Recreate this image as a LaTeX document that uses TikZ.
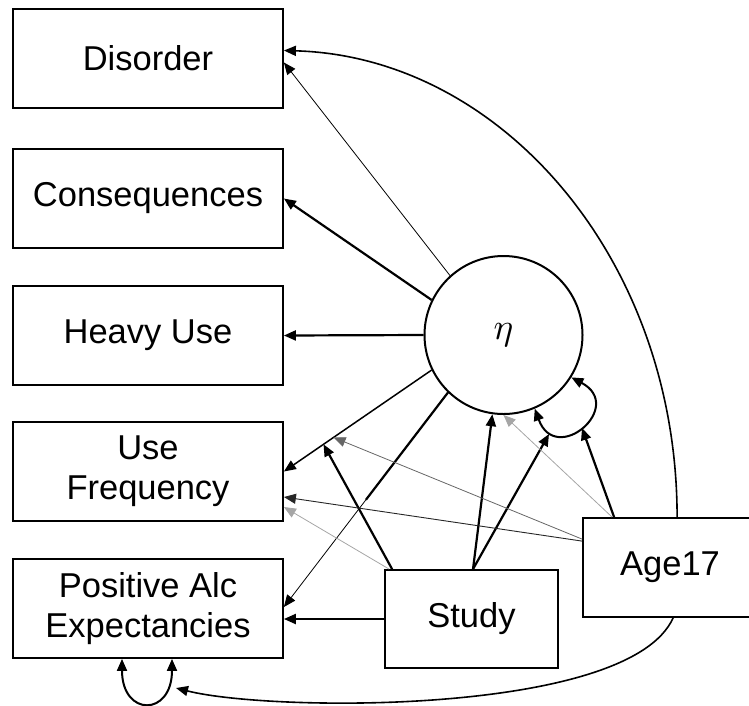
\documentclass[tikz,border=0pt]{standalone}
\usepackage{graphicx}
\usepackage{fontspec}
\setmainfont{Liberation Sans}
\usetikzlibrary{arrows.meta,calc}
\tikzset{
  box/.style={draw, line width=1.8pt, rectangle, minimum width=270pt, minimum height=99pt, inner sep=0pt, align=center, font=\fontsize{34.5}{40}\selectfont},
  latent/.style={draw, line width=2pt, circle, minimum size=158pt, inner sep=0pt},
  tip/.tip={Triangle[length=12pt,width=10pt]},
  thickarr/.style={line width=2.2pt, -tip},
  medarr/.style={line width=1.5pt, -tip},
  thinarr/.style={line width=0.8pt, -tip},
  darkarr/.style={line width=0.9pt, black!85, -tip},
  midgrayarr/.style={line width=0.8pt, black!60, -tip},
  grayarr/.style={line width=0.8pt, black!35, -tip},
  curvearr/.style={line width=1.6pt, -tip},
  looparr/.style={line width=2pt, tip-tip},
}
\begin{document}
\begin{tikzpicture}[x=1pt,y=-1pt]
\useasboundingbox (0,0) rectangle (749,705);
\clip (0,0) rectangle (749,705);

% nodes
\node[box] (dis) at (148,58.5) {Disorder};
\node[box] (con) at (148,198.5) {Consequences};
\node[box] (hvy) at (148,335.5) {Heavy Use};
\node[box] (uf) at (148,471.5) {Use\\Frequency};
\node[box] (pae) at (148,608.5) {Positive Alc\\Expectancies};
\node[latent] (eta) at (503.5,335) {\scalebox{3.7}{$\eta$}};
\node[box, minimum width=173pt, minimum height=98pt] (study) at (471.5,619) {Study};
\node[box, minimum width=174pt, minimum height=99pt] (age) at (670,567.5) {Age17};

% free ends on the variance loops
\coordinate (lp1) at (549,434);
\coordinate (lp2) at (582,428);
\coordinate (pl) at (176,688);

% eta loadings
\draw[thinarr] (eta.132) -- ([yshift=-4pt]dis.east);
\draw[thickarr] (eta.154) -- (con.east);
\draw[thickarr] (eta.west) -- (hvy.east);
\draw[medarr] (eta.206) -- coordinate[pos=0.664] (m2) coordinate[pos=0.732] (m1) (uf.east);
\draw[thinarr] (eta.226) -- coordinate[pos=0.5] (pm) ([yshift=1.5pt]pae.east);
\draw[line width=2.2pt] (eta.226) -- (pm);

% variance loops
\draw[looparr] (eta.293) .. controls +(290:62pt) and +(332:62pt) .. (eta.328);
\draw[looparr] ([xshift=-26pt]pae.south) .. controls +(0pt,-58pt) and +(0pt,-58pt) .. ([xshift=24pt]pae.south);

% Study effects
\draw[thickarr] (study.west) -- (pae.east |- study.west);
\draw[thickarr] ([xshift=1.5pt]study.north) -- (eta.262);
\draw[thickarr] ([xshift=1.5pt]study.north) -- (lp1);
\draw[thickarr] ([xshift=8pt]study.north west) -- (m1);
\draw[grayarr] ([xshift=5pt]study.north west) -- ([yshift=-35.5pt]uf.east);

% Age17 effects
\draw[darkarr] ([yshift=-24pt]age.north west) -- ([yshift=-25.5pt]uf.east);
\draw[midgrayarr] ([yshift=-22pt]age.north west) -- (m2);
\draw[grayarr] ([xshift=30pt]age.north west) -- (eta.south);
\draw[thickarr] ([xshift=32pt]age.north west) -- (lp2);
\draw[curvearr] ([xshift=95pt]age.north west) .. controls +(0pt,258pt) and +(217pt,-6pt) .. ([yshift=8pt]dis.east);
\draw[curvearr] ([xshift=91pt]age.south west) .. controls +(-44pt,-98pt) and +(94pt,-24pt) .. (pl);
\end{tikzpicture}
\end{document}
